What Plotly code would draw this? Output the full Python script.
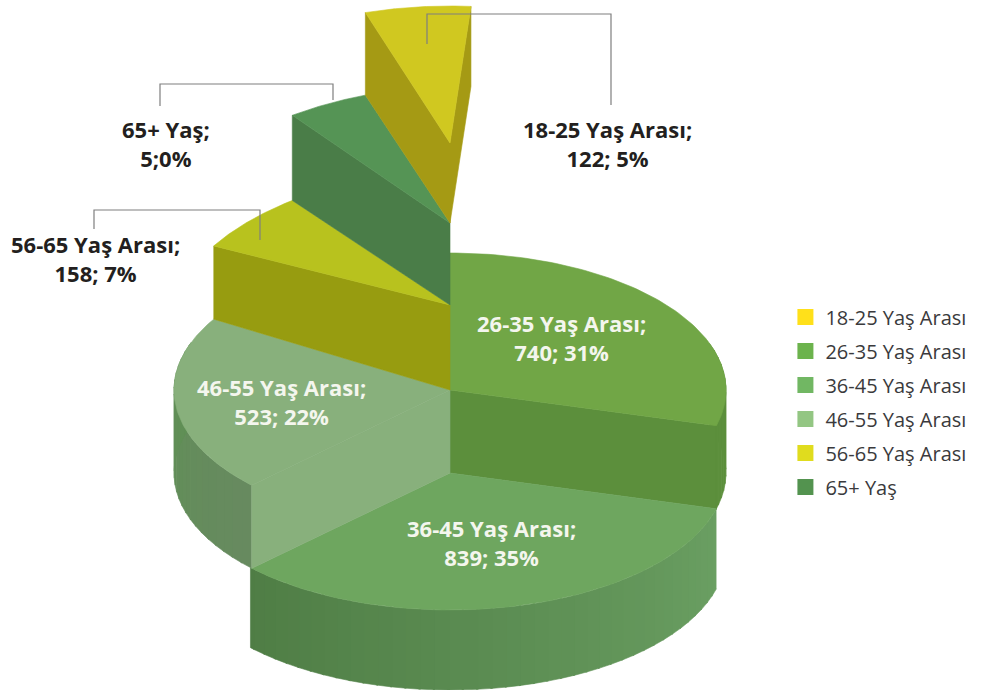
import numpy as np
import plotly.graph_objects as go

# ---------- data ----------
categories = ["18-25 Yaş Arası", "26-35 Yaş Arası", "36-45 Yaş Arası",
              "46-55 Yaş Arası", "56-65 Yaş Arası", "65+ Yaş"]
counts = [122, 740, 839, 523, 158, 5]
percents = [5, 31, 35, 22, 7, 0]
# share of the circle each slice occupies as drawn in the picture (percent)
drawn_share = {"26-35 Yaş Arası": 29.2, "36-45 Yaş Arası": 33.55, "46-55 Yaş Arası": 20.9,
               "56-65 Yaş Arası": 6.67, "65+ Yaş": 4.72, "18-25 Yaş Arası": 6.17}
draw_order = ["26-35 Yaş Arası", "36-45 Yaş Arası", "46-55 Yaş Arası",
              "56-65 Yaş Arası", "65+ Yaş", "18-25 Yaş Arası"]

# ---------- style ----------
CX, RX, RY = 450, 276, 137
apex_y = {"18-25 Yaş Arası": 143, "65+ Yaş": 223, "56-65 Yaş Arası": 305,
          "26-35 Yaş Arası": 390, "46-55 Yaş Arası": 390, "36-45 Yaş Arası": 473}
depth = {"18-25 Yaş Arası": 80, "65+ Yaş": 82, "56-65 Yaş Arası": 85,
         "26-35 Yaş Arası": 83, "46-55 Yaş Arası": 83, "36-45 Yaş Arası": 80}
# slight perspective skew of the raised steps (top face, wall foot)
skew_top = {"18-25 Yaş Arası": 0.0, "65+ Yaş": -0.03, "56-65 Yaş Arası": -0.05}
skew_foot = {"18-25 Yaş Arası": -0.03, "65+ Yaş": -0.05, "56-65 Yaş Arası": 0.0}
top_color = {"18-25 Yaş Arası": "#d0c820", "26-35 Yaş Arası": "#71a646", "36-45 Yaş Arası": "#6ea65f",
             "46-55 Yaş Arası": "#88b07c", "56-65 Yaş Arası": "#b8c21e", "65+ Yaş": "#559455"}
wall_color = {"18-25 Yaş Arası": "#a59a14", "26-35 Yaş Arası": "#5c8f3c", "36-45 Yaş Arası": "#5a8f52",
              "46-55 Yaş Arası": "#88b07c", "56-65 Yaş Arası": "#979c10", "65+ Yaş": "#4a7d48"}
legend_color = {"18-25 Yaş Arası": "#ffe01a", "26-35 Yaş Arası": "#6cb34d", "36-45 Yaş Arası": "#71b763",
                "46-55 Yaş Arası": "#93c683", "56-65 Yaş Arası": "#e0dc1e", "65+ Yaş": "#53934f"}
outer_ramp = {"36-45 Yaş Arası": ("#6a9f62", "#4f7d45"), "46-55 Yaş Arası": ("#678a5f", "#5f9055"),
              "26-35 Yaş Arası": ("#5c8f3c", "#5c8f3c")}
label_pos = {"18-25 Yaş Arası": (607, 143, "#231f20"), "26-35 Yaş Arası": (561, 337, "#f4f6ee"),
             "36-45 Yaş Arası": (491, 542, "#f4f6ee"), "46-55 Yaş Arası": (281, 401, "#f4f6ee"),
             "56-65 Yaş Arası": (95, 258, "#231f20"), "65+ Yaş": (166, 143, "#231f20")}
FONT = "Open Sans"


def ellipse(theta_deg, cy, skew=0.0):
    t = np.radians(theta_deg)
    x = CX + RX * np.sin(t)
    return x, cy - RY * np.cos(t) + skew * (x - CX)


def mix(c1, c2, f):
    a = [int(c1[i:i + 2], 16) for i in (1, 3, 5)]
    b = [int(c2[i:i + 2], 16) for i in (1, 3, 5)]
    return "rgb(%d,%d,%d)" % tuple(round(p + (q - p) * f) for p, q in zip(a, b))


fig = go.Figure()


def poly(xs, ys, color):
    fig.add_trace(go.Scatter(x=list(xs), y=list(ys), mode="lines", fill="toself", fillcolor=color,
                             line=dict(color=color, width=0.6), hoverinfo="skip", showlegend=False))


def radial_wall(theta, cy, h, color, s_top=0.0, s_foot=0.0):
    x, y = ellipse(theta, cy, s_top)
    _, y2 = ellipse(theta, cy + h, s_foot)
    poly([CX, x, x, CX, CX], [cy, y, y2, cy + h, cy], color)


def outer_wall(a0, a1, cy, h, c0, c1):
    a0 = max(a0, 70)          # the back of the rim is hidden
    a1 = min(a1, 290)
    edges = np.arange(a0, a1, 3.0).tolist() + [a1]
    for i in range(len(edges) - 1):
        th = np.linspace(edges[i], edges[i + 1] + 0.4, 4)
        x, y = ellipse(th, cy)
        f = i / max(1, len(edges) - 2)
        poly(np.r_[x, x[::-1]], np.r_[y, (y + h)[::-1]], mix(c0, c1, f))


angle = 0.0
spans = {}
for name in draw_order:
    span = drawn_share[name] * 3.6
    spans[name] = (angle, angle + span)
    angle += span

for name in draw_order:
    a0, a1 = spans[name]
    cy, h = apex_y[name], depth[name]
    st, sf = skew_top.get(name, 0.0), skew_foot.get(name, 0.0)
    if name in outer_ramp:
        outer_wall(a0, a1, cy, h, *outer_ramp[name])
    if name == "46-55 Yaş Arası":
        radial_wall(a0, cy, h, wall_color[name])
    elif name == "36-45 Yaş Arası":
        pass
    else:
        radial_wall(a0 if name != "26-35 Yaş Arası" else a1, cy, h, wall_color[name], st, sf)
    if name == "18-25 Yaş Arası":
        radial_wall(a1, cy, h, wall_color[name], st, 0.0)
    th = np.linspace(a0, a1, 80)
    x, y = ellipse(th, cy, st)
    poly(np.r_[CX, x, CX], np.r_[cy, y, cy], top_color[name])

# legend entries
for name in categories:
    fig.add_trace(go.Scatter(x=[None], y=[None], mode="markers", name=name, legendgroup=name,
                             marker=dict(symbol="square", size=16, color=legend_color[name])))

# data labels
for name, n, p in zip(categories, counts, percents):
    xc, yc, col = label_pos[name]
    line2 = f"{n};{p}%" if name == "65+ Yaş" else f"{n}; {p}%"
    fig.add_annotation(x=xc, y=yc, text=f"<b>{name};<br>{line2}</b>", showarrow=False,
                       font=dict(family=FONT, size=22, color=col))

# leader lines
leaders = [([427, 427, 611, 611], [44, 14, 14, 105]),
           ([333, 333, 160, 160], [100, 84, 84, 106]),
           ([260, 260, 94, 94], [240, 210, 210, 229])]
for xs, ys in leaders:
    fig.add_trace(go.Scatter(x=xs, y=ys, mode="lines", line=dict(color="#7f7f7f", width=1.2),
                             hoverinfo="skip", showlegend=False))

fig.update_layout(
    width=983, height=690, margin=dict(l=0, r=0, t=0, b=0),
    paper_bgcolor="white", plot_bgcolor="white",
    xaxis=dict(range=[0, 983], visible=False, fixedrange=True),
    yaxis=dict(range=[690, 0], visible=False, fixedrange=True),
    legend=dict(x=0.799, y=0.569, xanchor="left", yanchor="top", itemwidth=30, itemsizing="trace",
                tracegroupgap=5, traceorder="grouped", bgcolor="rgba(0,0,0,0)",
                font=dict(family=FONT, size=20, color="#3a3a3c")),
)
fig.write_html("out.html", post_script="document.body.style.margin='0';",
               config={"displayModeBar": False})
